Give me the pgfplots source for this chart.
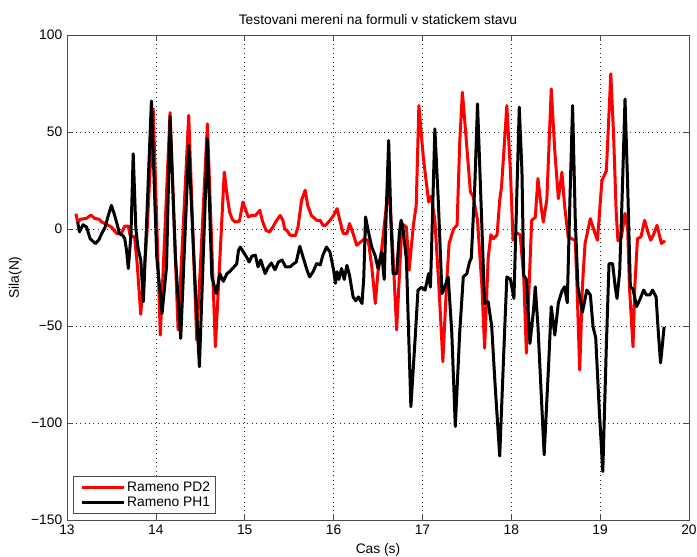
\documentclass[border=0pt]{standalone}
\usepackage{fontspec}
\setmainfont{Liberation Sans}
\usepackage{pgfplots}
\pgfplotsset{compat=1.18}
\begin{document}
\fontsize{13.8bp}{16bp}\selectfont
\begin{tikzpicture}
\path[use as bounding box] (-67bp,-37bp) rectangle (630bp,520bp);
\begin{axis}[
 scale only axis, width=622bp, height=485bp,
 xmin=13, xmax=20, ymin=-150, ymax=100,
 xtick={13,14,15,16,17,18,19,20},
 ytick={-150,-100,-50,0,50,100},
 yticklabels={−150,−100,−50,0,50,100},
 tick align=inside, major tick length=6bp,
 grid=major,
 major grid style={black!85, line width=0.6bp, dash pattern=on 0.8bp off 3.6bp},
 axis line style={black!70, line width=0.7bp},
 tick style={black!70, line width=0.7bp},
 /pgf/number format/assume math mode=true,
 ticklabel style={font=\fontsize{13.8bp}{16bp}\selectfont},
 label style={font=\fontsize{13.8bp}{16bp}\selectfont},
 title style={font=\fontsize{13.8bp}{16bp}\selectfont},
 title={Testovani mereni na formuli v statickem stavu},
 xlabel={Cas (s)}, ylabel={Sila(N)},
 legend cell align=left,
 legend style={at={(0.0101,0.0124)}, anchor=south west, draw=black!70, line width=0.7bp,
   font=\fontsize{13.8bp}{16bp}\selectfont, inner xsep=3bp, inner ysep=3bp, row sep=0bp,
   nodes={inner sep=2bp}},
 legend image code/.code={\path (0bp,0bp); \draw[#1] (3.5bp,0bp) -- (45.5bp,0bp);},
 every axis plot/.append style={line width=3bp, line join=round},
]
\addplot[red] coordinates {
(13.10,7.9) (13.12,3.6) (13.15,5) (13.22,5.5) (13.27,7.2) (13.31,5.5) (13.36,5) (13.39,3.6)
(13.44,2.5) (13.50,1) (13.56,-2.4) (13.61,-2.4) (13.65,1.5) (13.69,1.5) (13.71,-3.3)
(13.76,-4) (13.79,-18) (13.83,-44) (13.90,-2) (13.97,62) (14.05,-54.7) (14.16,60) (14.25,-52)
(14.37,58.5) (14.46,-57.3) (14.58,54.2) (14.67,-60.7) (14.77,29.3) (14.80,18) (14.83,8.7)
(14.86,5) (14.89,3.6) (14.94,4) (14.98,13.9) (15.01,10) (15.04,6.2) (15.08,7) (15.12,7)
(15.17,9.6) (15.20,4) (15.24,-0.7) (15.28,-1.5) (15.31,0.5) (15.36,4.5) (15.40,7)
(15.43,4.5) (15.45,0) (15.48,-1) (15.51,-3.2) (15.57,-3.4) (15.60,1) (15.64,14.8)
(15.68,20) (15.71,12) (15.75,7) (15.81,4.5) (15.85,4.5) (15.88,1.9) (15.91,1.9) (15.96,4.5)
(16.00,7) (16.04,10.5) (16.07,4.5) (16.11,-2.4) (16.15,-2.4) (16.18,2.8) (16.22,-2.4)
(16.26,-8.4) (16.31,-6.5) (16.35,-5) (16.39,-6) (16.43,-19.5) (16.47,-38.4) (16.50,-22)
(16.54,-11) (16.58,6) (16.62,23) (16.66,-5) (16.71,-52) (16.77,2.7) (16.82,1) (16.85,-21.2)
(16.90,2.7) (16.93,12) (16.96,63.6) (17.01,37) (17.07,13.9) (17.10,17) (17.14,4.5)
(17.19,-33.3) (17.23,-68.4) (17.27,-30) (17.30,-7.5) (17.35,0) (17.39,2) (17.42,45)
(17.45,70.5) (17.49,48) (17.54,19) (17.57,17) (17.62,4.5) (17.67,-30) (17.70,-61.5)
(17.74,-15) (17.77,-3) (17.80,-5) (17.84,-3) (17.87,15) (17.89,21.6) (17.95,63.6)
(17.99,30) (18.02,-5.8) (18.06,-2) (18.10,-3) (18.14,-24.7) (18.17,-64) (18.20,-30)
(18.23,4.5) (18.27,6) (18.30,26) (18.34,10) (18.36,3.6) (18.40,15) (18.45,72.2)
(18.49,40) (18.53,15.6) (18.57,29.3) (18.60,12) (18.64,-4) (18.72,-6) (18.74,-30)
(18.77,-72.7) (18.80,-30) (18.83,-7.5) (18.89,5.3) (18.94,-2) (18.97,-5.8) (19.02,25)
(19.07,30) (19.12,80) (19.15,50) (19.18,9.6) (19.20,-6) (19.24,-4) (19.28,8) (19.31,0)
(19.33,-30) (19.37,-60.7) (19.39,-30) (19.42,-5) (19.46,-4) (19.50,4.5) (19.54,-2)
(19.57,-5.8) (19.60,-3) (19.64,1.9) (19.69,-7.5) (19.73,-6)
};
\addlegendentry{Rameno PD2}
\addplot[black] coordinates {
(13.12,3.6) (13.14,-1.5) (13.18,2.2) (13.22,1) (13.26,-5) (13.32,-7.5) (13.36,-5.5)
(13.39,-2.4) (13.43,1) (13.46,6.2) (13.50,12.2) (13.53,8) (13.57,1.5) (13.59,-2.4)
(13.63,-3.4) (13.65,-5) (13.67,-11) (13.69,-20.4) (13.72,-3) (13.745,38.8) (13.775,0)
(13.80,-10) (13.83,-16) (13.86,-37.5) (13.89,-3.3) (13.95,66) (14.01,-14.4)
(14.07,-43.5) (14.12,-19.6) (14.16,58) (14.22,-14.4) (14.28,-56.4) (14.37,43) (14.43,-17)
(14.49,-71) (14.58,46.5) (14.63,-24.7) (14.68,-33.3) (14.72,-23) (14.76,-27) (14.80,-23)
(14.83,-22) (14.87,-20) (14.91,-18) (14.93,-11) (14.95,-9.3) (14.98,-11.5) (15.02,-14.4)
(15.05,-17) (15.08,-14) (15.12,-13.5) (15.15,-19.5) (15.18,-16) (15.23,-23) (15.26,-20)
(15.30,-17.5) (15.34,-21) (15.38,-17) (15.42,-16) (15.46,-19.5) (15.51,-19.5) (15.55,-18)
(15.58,-17) (15.62,-8.9) (15.66,-15) (15.70,-21) (15.73,-24.7) (15.77,-22) (15.81,-17.8)
(15.85,-18.5) (15.88,-13.5) (15.92,-9.3) (15.96,-12) (16.00,-21) (16.02,-28) (16.04,-22)
(16.06,-26) (16.09,-20.4) (16.12,-26) (16.15,-18.7) (16.18,-24) (16.22,-35) (16.25,-37)
(16.28,-35) (16.32,-38.4) (16.34,-25) (16.36,6.2) (16.39,-1) (16.43,-9.3) (16.47,-14)
(16.50,-20.4) (16.54,-12) (16.57,-26) (16.59,5) (16.62,45.6) (16.645,5) (16.67,-23)
(16.71,-23) (16.74,-2.4) (16.76,4.5) (16.78,1) (16.82,-16) (16.87,-91.6) (16.92,-55)
(16.95,-31.5) (16.99,-30) (17.03,-31.5) (17.07,-23) (17.09,-30) (17.10,-15) (17.14,51.6)
(17.18,13) (17.22,-33.3) (17.25,-30) (17.29,-24.7) (17.33,-53) (17.37,-101.8) (17.42,-53)
(17.46,-24.7) (17.50,-23) (17.53,-17) (17.55,-15) (17.59,23) (17.62,64.5) (17.66,13)
(17.70,-38.4) (17.74,-37.5) (17.78,-50.4) (17.82,-82) (17.87,-117) (17.91,-70)
(17.95,-24.7) (17.99,-26) (18.03,-35.8) (18.06,14) (18.09,62.8) (18.12,30) (18.14,-23.8)
(18.17,-26) (18.21,-59) (18.25,-42) (18.27,-29.8) (18.30,-50) (18.37,-116.4) (18.42,-70)
(18.45,-40) (18.49,-54.7) (18.53,-38) (18.57,-32) (18.60,-29.8) (18.63,-38) (18.66,15)
(18.69,63.6) (18.72,5) (18.75,-29.8) (18.80,-43) (18.85,-31.5) (18.89,-34) (18.92,-50.4)
(18.95,-56) (18.99,-93) (19.03,-125) (19.07,-60) (19.10,-17.8) (19.14,-17.8) (19.17,-30)
(19.19,-35.8) (19.22,-22) (19.25,20) (19.28,67) (19.31,22) (19.34,-29.8) (19.37,-31)
(19.41,-40) (19.45,-36) (19.49,-31.5) (19.52,-34) (19.56,-34) (19.59,-31.5) (19.63,-35)
(19.65,-50) (19.68,-69) (19.70,-60) (19.72,-50.4)
};
\addlegendentry{Rameno PH1}
\end{axis}
\end{tikzpicture}
\end{document}
